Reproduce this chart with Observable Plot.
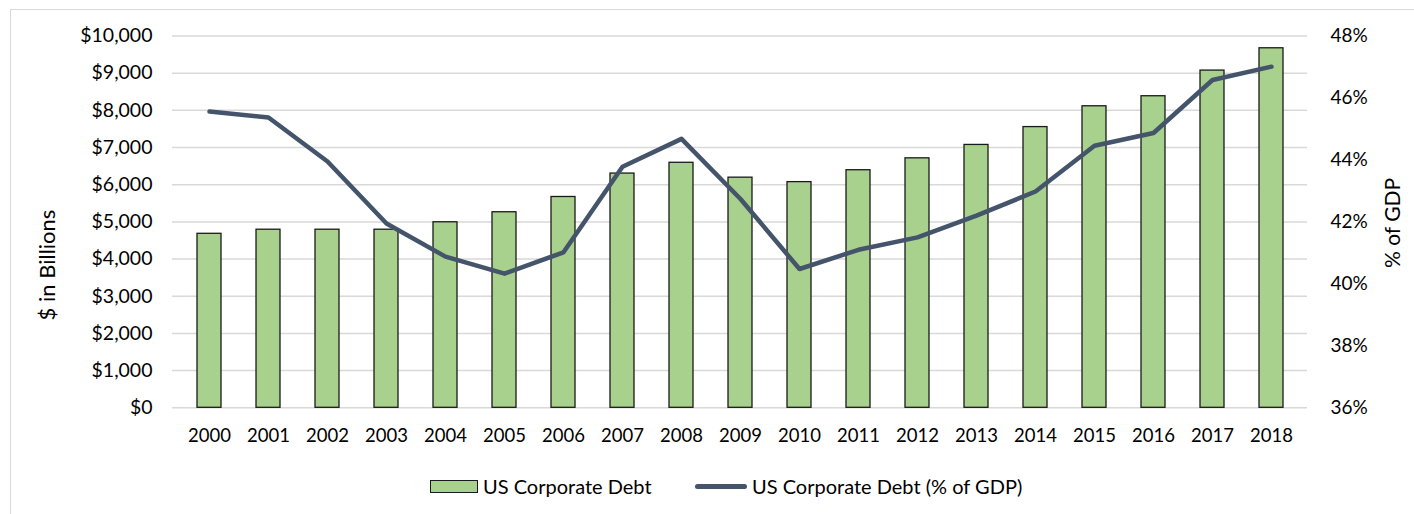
<!DOCTYPE html>
<html>
<head>
<meta charset="utf-8">
<script src="https://cdn.jsdelivr.net/npm/d3@7"></script>
<script src="https://cdn.jsdelivr.net/npm/@observablehq/plot@0.6"></script>
<style>
  html, body { margin: 0; padding: 0; background: #fff; overflow: hidden; }
  #wrap { position: relative; width: 1414px; height: 514px; font-family: Lato, "Open Sans", sans-serif; color: #000; }
  #frame { position: absolute; left: 10px; top: 9px; width: 1500px; height: 1000px; border: 1px solid #d9d9d9; box-sizing: border-box; }
  #chart { position: absolute; left: 0; top: 0; }
  .ytitle { position: absolute; white-space: nowrap; transform: translate(-50%, -50%) rotate(-90deg); }
  .legend-item { position: absolute; display: flex; align-items: center; font-size: 20px; white-space: nowrap; }
</style>
</head>
<body>
<div id="wrap">
  <div id="frame"></div>
  <div id="chart"></div>
  <div class="ytitle" style="left:46px; top:265px; font-size:22px;">$ in Billions</div>
  <div class="ytitle" style="left:1391px; top:223px; font-size:21px;">% of GDP</div>
  <div class="legend-item" style="left:430px; top:474px;">
    <span style="display:inline-block;width:46px;height:11px;background:#a9d18e;border:1.3px solid #1a1a1a;margin-right:5px;"></span>US Corporate Debt
  </div>
  <div class="legend-item" style="left:695px; top:474px;">
    <span style="display:inline-block;width:52px;height:5px;background:#44546a;border-radius:3px;margin-right:5px;"></span>US Corporate Debt (% of GDP)
  </div>
</div>
<script>
const years = ["2000","2001","2002","2003","2004","2005","2006","2007","2008","2009","2010","2011","2012","2013","2014","2015","2016","2017","2018"];
const debtBillions = [4680,4790,4790,4790,4990,5260,5670,6300,6590,6190,6070,6390,6710,7070,7550,8110,8380,9070,9670];
const debtPctGdp = [45.56,45.37,43.95,41.95,40.88,40.33,41.02,43.78,44.68,42.74,40.48,41.10,41.50,42.20,42.98,44.46,44.87,46.58,47.01];
const dollarTicks = [0,1000,2000,3000,4000,5000,6000,7000,8000,9000,10000];
const pctTicks = [36,38,40,42,44,46,48];

const pctMin = 36, pctMax = 48, dollarMax = 10000;
const toDollar = p => (p - pctMin) / (pctMax - pctMin) * dollarMax;
const toPct = v => pctMin + v / dollarMax * (pctMax - pctMin);

const data = years.map((y, i) => ({year: y, debt: debtBillions[i], pct: debtPctGdp[i]}));

const chart = Plot.plot({
  width: 1414,
  height: 460,
  marginTop: 35.5,
  marginBottom: 52.7,
  marginLeft: 172,
  marginRight: 107,
  style: {fontFamily: "Lato, 'Open Sans', sans-serif", fontSize: "18px", color: "#000", background: "transparent"},
  x: {type: "band", domain: years, paddingInner: 0.6, paddingOuter: 0.3},
  y: {domain: [0, dollarMax]},
  marks: [
    Plot.gridY(dollarTicks, {stroke: "#d9d9d9", strokeOpacity: 1, strokeWidth: 1.5}),
    Plot.barY(data, {x: "year", y: "debt", fill: "#a9d18e", stroke: "#1a1a1a", strokeWidth: 1.3}),
    Plot.line(data, {x: "year", y: d => toDollar(d.pct), stroke: "#44546a", strokeWidth: 4.5, strokeLinecap: "round", strokeLinejoin: "round"}),
    Plot.axisY(dollarTicks, {anchor: "left", tickSize: 0, tickPadding: 20, fontSize: 19.5, tickFormat: d => "$" + d3.format(",")(d), label: null}),
    Plot.axisY(pctTicks.map(toDollar), {anchor: "right", tickSize: 0, tickPadding: 23, fontSize: 19, tickFormat: d => Math.round(toPct(d)) + "%", label: null}),
    Plot.axisX({tickSize: 0, tickPadding: 21, fontSize: 18.5, label: null})
  ]
});
document.getElementById("chart").appendChild(chart);
</script>
</body>
</html>
